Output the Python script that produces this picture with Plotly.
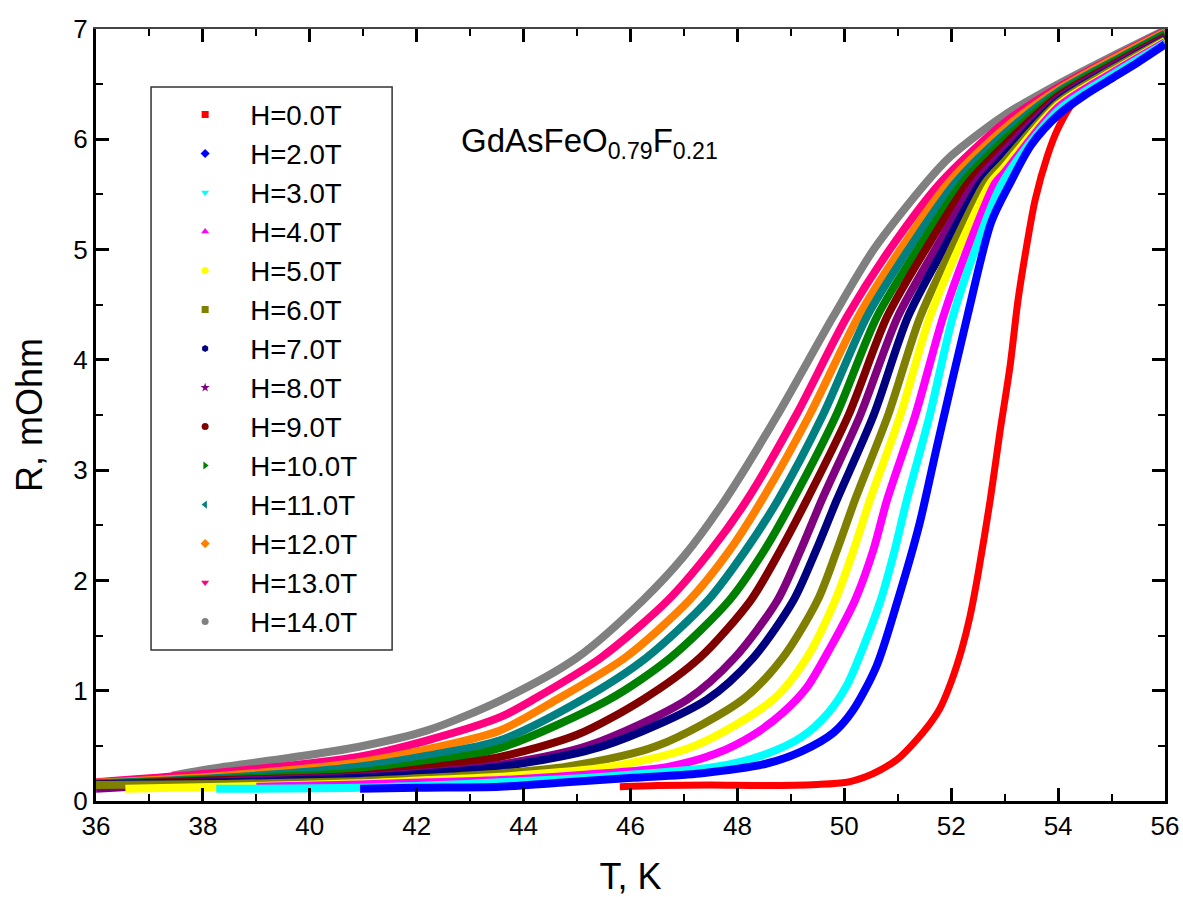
import plotly.graph_objects as go

# ---------------- data ----------------
labels = ["H=0.0T", "H=2.0T", "H=3.0T", "H=4.0T", "H=5.0T", "H=6.0T", "H=7.0T",
          "H=8.0T", "H=9.0T", "H=10.0T", "H=11.0T", "H=12.0T", "H=13.0T", "H=14.0T"]
colors = ["#FF0000", "#0000FF", "#00FFFF", "#FF00FF", "#FFFF00", "#808000", "#000080",
          "#800080", "#800000", "#008000", "#008080", "#FF8000", "#FF0080", "#808080"]
symbols = ["square", "diamond", "triangle-down", "triangle-up", "circle", "square", "hexagon",
           "star", "circle", "triangle-right", "triangle-left", "diamond", "triangle-down", "circle"]

T_H0 = [45.8, 46.5, 47.5, 48.5, 49.5, 50.05, 50.4, 50.67, 51.0, 51.29, 51.6, 51.79, 52.0, 52.2, 52.35,
        52.5, 52.73, 52.91, 53.1, 53.25, 53.4, 53.57, 53.8, 54.0, 54.28, 54.6, 55.0, 55.5, 56.0]
R_H0 = [0.13, 0.14, 0.145, 0.14, 0.15, 0.17, 0.22, 0.28, 0.38, 0.52, 0.7, 0.84, 1.08, 1.38, 1.67,
        2.05, 2.73, 3.34, 3.94, 4.54, 5.0, 5.45, 5.85, 6.1, 6.33, 6.45, 6.57, 6.72, 6.87]

T_H2 = [40.94, 42.0, 43.56, 44.8, 46.05, 47.3, 48.55, 49.2, 49.8, 50.16, 50.6, 51.0, 51.4, 51.75,
        52.3, 52.75, 53.1, 53.5, 54.0, 54.5, 55.0, 55.5, 56.0]
R_H2 = [0.11, 0.12, 0.13, 0.17, 0.21, 0.25, 0.34, 0.45, 0.62, 0.82, 1.22, 1.82, 2.5, 3.25,
        4.39, 5.25, 5.6, 5.95, 6.22, 6.4, 6.55, 6.7, 6.86]

T_H3 = [38.25, 40.9, 42.2, 43.56, 45.5, 47.6, 48.5, 49.2, 49.7, 50.05, 50.4, 50.68, 50.94, 51.17,
        51.6, 52.03, 52.45, 52.95, 54.0, 55.0, 56.0]
R_H3 = [0.11, 0.12, 0.14, 0.17, 0.22, 0.31, 0.42, 0.58, 0.8, 1.05, 1.45, 1.82, 2.27, 2.73,
        3.5, 4.39, 5.0, 5.6, 6.26, 6.58, 6.87]

T_H4 = [39.0, 40.9, 42.2, 43.56, 45.2, 46.7, 47.6, 48.3, 48.85, 49.3, 49.75, 50.2, 50.54, 50.8,
        51.33, 51.85, 52.3, 52.82, 53.0, 54.0, 55.0, 56.0]
R_H4 = [0.13, 0.15, 0.17, 0.19, 0.24, 0.31, 0.43, 0.6, 0.8, 1.03, 1.4, 1.82, 2.27, 2.73,
        3.5, 4.39, 5.0, 5.6, 5.7, 6.29, 6.6, 6.88]

T_H5 = [36.55, 38.38, 40.9, 42.2, 43.56, 45.6, 47.2, 48.67, 49.3, 49.83, 50.17, 50.48, 51.05, 51.6,
        52.13, 52.73, 53.0, 54.0, 55.0, 56.0]
R_H5 = [0.11, 0.13, 0.16, 0.19, 0.22, 0.31, 0.5, 0.92, 1.3, 1.82, 2.27, 2.73, 3.5, 4.39,
        5.0, 5.6, 5.75, 6.31, 6.61, 6.89]

T_H6 = [36.0, 38.38, 40.9, 42.2, 43.56, 44.8, 46.5, 48.1, 48.85, 49.5, 49.86, 50.2, 50.82, 51.42,
        52.0, 52.63, 53.0, 54.0, 55.0, 56.0]
R_H6 = [0.145, 0.155, 0.18, 0.21, 0.25, 0.31, 0.5, 0.92, 1.3, 1.82, 2.27, 2.73, 3.5, 4.39,
        5.0, 5.6, 5.8, 6.33, 6.63, 6.9]

T_H7 = [36.0, 38.38, 40.9, 42.2, 43.56, 45.5, 47.43, 48.3, 49.05, 49.47, 49.86, 50.55, 51.19, 51.85,
        52.54, 53.0, 54.0, 55.0, 56.0]
R_H7 = [0.15, 0.17, 0.21, 0.25, 0.31, 0.5, 0.92, 1.3, 1.82, 2.27, 2.73, 3.5, 4.39, 5.0,
        5.6, 5.85, 6.35, 6.64, 6.91]

T_H8 = [36.0, 38.38, 40.9, 42.2, 43.56, 45.2, 47.06, 47.95, 48.75, 49.18, 49.58, 50.3, 51.0, 51.7,
        52.44, 53.0, 54.0, 55.0, 56.0]
R_H8 = [0.11, 0.18, 0.22, 0.26, 0.33, 0.5, 0.92, 1.3, 1.82, 2.27, 2.73, 3.5, 4.39, 5.0,
        5.6, 5.9, 6.37, 6.66, 6.92]

T_H9 = [36.0, 38.38, 40.9, 42.2, 43.56, 45.0, 46.23, 47.3, 48.25, 48.8, 49.3, 50.08, 50.8, 51.52,
        52.31, 53.0, 54.0, 55.0, 56.0]
R_H9 = [0.15, 0.19, 0.23, 0.3, 0.40, 0.6, 0.92, 1.3, 1.82, 2.27, 2.73, 3.5, 4.39, 5.0,
        5.6, 5.95, 6.39, 6.67, 6.93]

T_H10 = [36.0, 38.38, 40.9, 42.2, 43.56, 45.6, 46.75, 47.85, 48.5, 49.04, 49.85, 50.61, 51.37, 52.2,
         53.0, 54.0, 55.0, 56.0]
R_H10 = [0.155, 0.2, 0.26, 0.35, 0.48, 0.92, 1.3, 1.82, 2.27, 2.73, 3.5, 4.39, 5.0, 5.6,
         6.0, 6.41, 6.69, 6.95]

T_H11 = [36.0, 38.38, 40.9, 42.2, 43.56, 45.1, 46.3, 47.45, 48.15, 48.76, 49.6, 50.42, 51.2, 52.07,
         53.0, 54.0, 55.0, 56.0]
R_H11 = [0.16, 0.21, 0.31, 0.41, 0.55, 0.92, 1.3, 1.82, 2.27, 2.73, 3.5, 4.39, 5.0, 5.6,
         6.05, 6.43, 6.7, 6.96]

T_H12 = [36.0, 38.38, 40.9, 42.2, 43.56, 44.62, 45.9, 47.1, 47.85, 48.46, 49.35, 50.26, 51.05, 51.94,
         53.0, 54.0, 55.0, 56.0]
R_H12 = [0.165, 0.23, 0.35, 0.47, 0.64, 0.92, 1.3, 1.82, 2.27, 2.73, 3.5, 4.39, 5.0, 5.6,
         6.1, 6.45, 6.72, 6.97]

T_H13 = [36.0, 38.38, 40.9, 42.2, 43.56, 44.18, 45.45, 46.7, 47.5, 48.18, 49.1, 50.05, 50.85, 51.79,
         53.0, 54.0, 55.0, 56.0]
R_H13 = [0.17, 0.26, 0.40, 0.55, 0.76, 0.92, 1.3, 1.82, 2.27, 2.73, 3.5, 4.39, 5.0, 5.6,
         6.15, 6.47, 6.73, 6.98]

T_H14 = [37.42, 38.4, 39.6, 40.9, 42.2, 43.6, 45.0, 46.23, 47.0, 47.77, 48.75, 49.79, 50.55, 51.52,
         52.0, 53.0, 54.0, 55.0, 56.0]
R_H14 = [0.23, 0.31, 0.39, 0.49, 0.64, 0.92, 1.3, 1.82, 2.22, 2.73, 3.5, 4.39, 5.0, 5.6,
         5.85, 6.22, 6.5, 6.75, 6.99]

T_all = [T_H0, T_H2, T_H3, T_H4, T_H5, T_H6, T_H7, T_H8, T_H9, T_H10, T_H11, T_H12, T_H13, T_H14]
R_all = [R_H0, R_H2, R_H3, R_H4, R_H5, R_H6, R_H7, R_H8, R_H9, R_H10, R_H11, R_H12, R_H13, R_H14]

x_ticks = [36, 38, 40, 42, 44, 46, 48, 50, 52, 54, 56]
y_ticks = [0, 1, 2, 3, 4, 5, 6, 7]

FONT = "Liberation Sans, Arial, sans-serif"

fig = go.Figure()

# curves: H=0 first (underneath), then from H=14 down to H=2 so lower fields lie on top
order = [0] + list(range(len(labels) - 1, 0, -1))
for i in order:
    fig.add_trace(go.Scatter(
        x=T_all[i], y=R_all[i], mode="lines",
        line=dict(color=colors[i], width=7 if i == 0 else 8, shape="spline", smoothing=0.8),
        showlegend=False, hoverinfo="skip"))

# legend entries (markers only, like the original)
for i in range(len(labels)):
    fig.add_trace(go.Scatter(
        x=[None], y=[None], mode="markers", name=labels[i],
        marker=dict(color=colors[i], symbol=symbols[i], size=7, line=dict(width=0))))

# helper trace for the top axis
fig.add_trace(go.Scatter(x=[None], y=[None], xaxis="x2", showlegend=False, hoverinfo="skip"))

fig.add_annotation(
    x=42.8, y=5.97, xref="x", yref="y", xanchor="left", yanchor="middle",
    text="GdAsFeO<sub>0.79</sub>F<sub>0.21</sub>", showarrow=False,
    font=dict(family=FONT, size=33, color="black"))

# legend frame
fig.add_shape(type="rect", xref="paper", yref="paper",
              x0=0.0515, x1=0.277, y0=0.1956, y1=0.925,
              line=dict(color="#333333", width=1.5), fillcolor="rgba(0,0,0,0)")

fig.update_layout(
    width=1183, height=897,
    margin=dict(l=96, r=18, t=29, b=96, autoexpand=False),
    paper_bgcolor="white", plot_bgcolor="white",
    font=dict(family=FONT, color="black"),
    showlegend=True,
    legend=dict(x=0.06, y=0.921, xanchor="left", yanchor="top",
                font=dict(family=FONT, size=27.7, color="black"),
                bgcolor="rgba(0,0,0,0)", borderwidth=0, itemwidth=80),
    xaxis=dict(range=[36, 56], tickvals=x_ticks, ticktext=[str(v) for v in x_ticks],
               ticks="inside", ticklen=13, tickwidth=2.5, tickcolor="black",
               minor=dict(dtick=1, ticks="inside", ticklen=7, tickwidth=2, tickcolor="black"),
               showline=True, linewidth=3, linecolor="black", mirror=False,
               showgrid=False, zeroline=False, automargin=False,
               tickfont=dict(family=FONT, size=26, color="black"),
               title=dict(text="T, K", font=dict(family=FONT, size=36, color="black"), standoff=32)),
    xaxis2=dict(range=[36, 56], overlaying="x", side="top", tickvals=x_ticks, showticklabels=False,
                ticks="inside", ticklen=13, tickwidth=2.5, tickcolor="black",
                minor=dict(dtick=1, ticks="inside", ticklen=7, tickwidth=2, tickcolor="black"),
                showline=True, linewidth=1.5, linecolor="#444444", showgrid=False, zeroline=False,
                automargin=False),
    yaxis=dict(range=[0, 7], tickvals=y_ticks, ticktext=[str(v) for v in y_ticks],
               ticks="inside", ticklen=13, tickwidth=2.5, tickcolor="black",
               minor=dict(dtick=0.5, ticks="inside", ticklen=7, tickwidth=2, tickcolor="black"),
               showline=True, linewidth=3, linecolor="black", mirror="ticks",
               showgrid=False, zeroline=False, automargin=False,
               tickfont=dict(family=FONT, size=26, color="black"),
               title=dict(text="R, mOhm", font=dict(family=FONT, size=36, color="black"), standoff=20)),
)

fig.write_html("out.html")
